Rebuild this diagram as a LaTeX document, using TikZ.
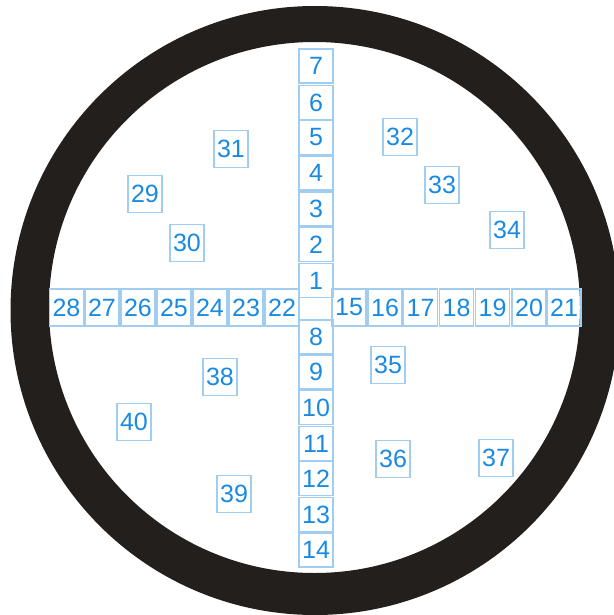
\documentclass[tikz,border=0pt]{standalone}
\usepackage{fontspec}
\setmainfont{Liberation Sans}
\definecolor{ringc}{RGB}{35,31,28}
\definecolor{boxc}{RGB}{160,205,240}
\definecolor{txtc}{RGB}{25,138,225}
\tikzset{
  nbox/.style={draw=boxc, line width=1.1pt, text=txtc, inner sep=0pt,
    minimum width=34pt, minimum height=34pt, font=\fontsize{25}{25}\selectfont},
  rbox/.style={nbox, minimum height=37pt},
  fbox/.style={nbox, minimum height=37pt}
}
\begin{document}
\begin{tikzpicture}[x=1pt,y=-1pt]
\useasboundingbox (0,0) rectangle (613,615);
\fill[ringc, even odd rule] (315,310.5) circle (304.5) (314.5,307.5) circle (265.5);
% vertical column
\node[nbox] (n7) at (316,66) {7};
\node[nbox] (n6) at (316,102.5) {6};
\node[nbox] (n5) at (316,137.5) {5};
\node[nbox] (n4) at (316,173) {4};
\node[nbox] (n3) at (316,209) {3};
\node[nbox] (n2) at (316,244.5) {2};
\node[nbox] (n1) at (316,280.5) {1};
\node[nbox] (n8) at (316,337) {8};
\node[nbox] (n9) at (316,372) {9};
\node[nbox] (n10) at (316,407.5) {10};
\node[nbox] (n11) at (316,443.5) {11};
\node[nbox] (n12) at (316,478.5) {12};
\node[nbox] (n13) at (316,514.5) {13};
\node[nbox] (n14) at (316,550) {14};
% horizontal row
\node[rbox] (n28) at (66.5,307.5) {28};
\node[rbox] (n27) at (102,307.5) {27};
\node[rbox] (n26) at (138,307.5) {26};
\node[rbox] (n25) at (174,307.5) {25};
\node[rbox] (n24) at (210,307.5) {24};
\node[rbox] (n23) at (246,307.5) {23};
\node[rbox] (n22) at (282,307.5) {22};
\node[rbox] (n15) at (349,307.5) {15};
\node[rbox] (n16) at (385,307.5) {16};
\node[rbox] (n17) at (420.5,307.5) {17};
\node[rbox] (n18) at (456.5,307.5) {18};
\node[rbox] (n19) at (492.5,307.5) {19};
\node[rbox] (n20) at (529,307.5) {20};
\node[rbox] (n21) at (564,307.5) {21};
% scattered
\node[fbox] (n31) at (231,149) {31};
\node[fbox] (n29) at (145,194) {29};
\node[fbox] (n30) at (187,243) {30};
\node[fbox] (n32) at (400,137) {32};
\node[fbox] (n33) at (442,185) {33};
\node[fbox] (n34) at (507,230) {34};
\node[fbox] (n35) at (388,365) {35};
\node[fbox] (n38) at (220,377) {38};
\node[fbox] (n40) at (134,422) {40};
\node[fbox] (n36) at (393,459) {36};
\node[fbox] (n37) at (496,458) {37};
\node[fbox] (n39) at (234,494) {39};
\end{tikzpicture}
\end{document}
